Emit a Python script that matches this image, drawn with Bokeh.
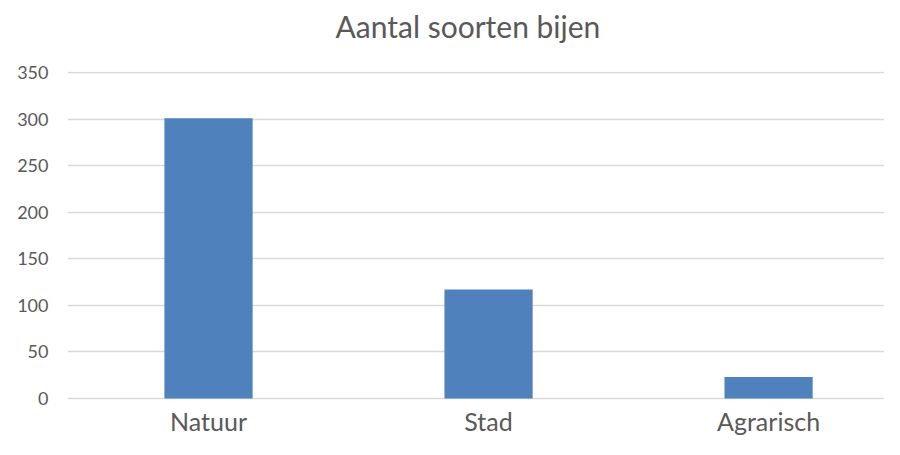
from bokeh.plotting import figure
from bokeh.models import Range1d, FixedTicker, ColumnDataSource, Title
from bokeh.core.properties import value
from bokeh.embed import file_html
from bokeh.resources import INLINE

categories = ["Natuur", "Stad", "Agrarisch"]
values = [301, 117, 23]
y_ticks = [0, 50, 100, 150, 200, 250, 300, 350]

FONT = "Lato"
TEXT = "#595959"
GRID = "#d9d9d9"

xs = list(range(len(categories)))
src = ColumnDataSource(dict(x=xs, top=values, base=[0] * len(xs), label=categories))

p = figure(width=884, height=439, output_backend="svg", toolbar_location=None,
           x_range=Range1d(-0.5036, 2.414), y_range=Range1d(-44.02, 351.07),
           x_axis_location=None,
           min_border_left=67, min_border_right=0, min_border_bottom=0, min_border_top=71)
p.outline_line_color = None

# spacer between frame and title, then the title itself
p.add_layout(Title(text=" ", text_font_size="23px", standoff=0), "above")
p.add_layout(Title(text="Aantal soorten bijen", text_font=FONT, text_font_size="30px",
                   text_font_style="normal", text_color=TEXT, align="left", offset=268,
                   standoff=0), "above")

p.vbar(x="x", top="top", width=0.315, source=src, fill_color="#4F81BD", line_color=None)

# category labels under the baseline
p.text(x="x", y="base", text="label", source=src, y_offset=23,
       text_font=value(FONT), text_font_size="25px", text_color=TEXT,
       text_align="center", text_baseline="middle")

p.yaxis.ticker = FixedTicker(ticks=y_ticks)
p.yaxis.major_label_text_font = FONT
p.yaxis.major_label_text_font_size = "18px"
p.yaxis.major_label_text_color = TEXT
p.yaxis.major_label_standoff = 19
p.yaxis.major_tick_out = 0
p.yaxis.major_tick_in = 0
p.yaxis.axis_line_color = None
p.yaxis.major_tick_line_color = None
p.yaxis.minor_tick_line_color = None

p.xgrid.grid_line_color = None
p.ygrid.grid_line_color = GRID
p.ygrid.grid_line_width = 1.5

open("out.html", "w").write(file_html(p, INLINE))
